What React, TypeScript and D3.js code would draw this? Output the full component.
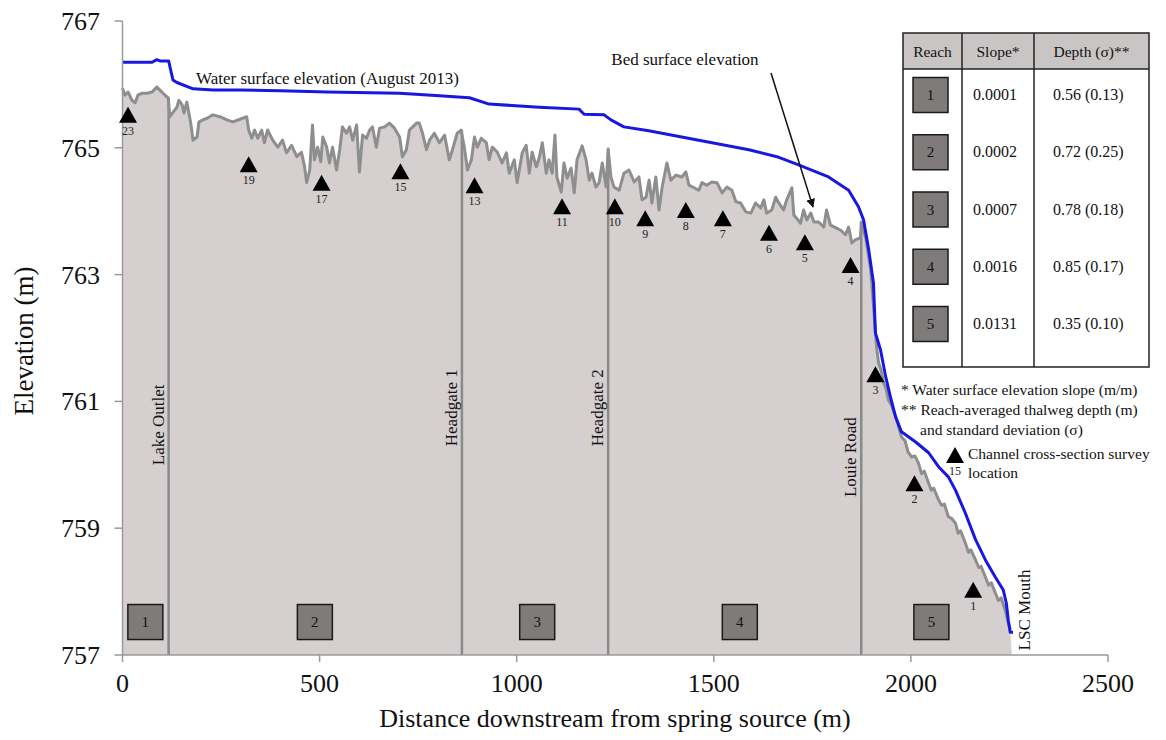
import React from 'react';
import * as d3 from 'd3';

// ---- canvas ----
const WIDTH = 1166;
const HEIGHT = 740;
const FONT = '"Liberation Serif", "Times New Roman", serif';

// ---- axes ----
const X_DOMAIN: [number, number] = [0, 2500];
const Y_DOMAIN: [number, number] = [757, 767];
const X_TICKS = [0, 500, 1000, 1500, 2000, 2500];
const Y_TICKS = [757, 759, 761, 763, 765, 767];

// ---- water surface profile, August 2013: [distance (m), elevation (m)] ----
const WATER_SURFACE: [number, number][] = [
  [0, 766.35], [75, 766.35], [87, 766.39], [95, 766.37], [117, 766.37], [128, 766.07],
  [138, 766.03], [179, 765.93], [230, 765.91], [300, 765.91], [400, 765.9], [520, 765.88],
  [703, 765.86], [804, 765.82], [880, 765.79], [930, 765.69], [1057, 765.64], [1158, 765.61],
  [1171, 765.53], [1222, 765.52], [1239, 765.44], [1272, 765.33], [1335, 765.27], [1462, 765.12],
  [1589, 764.97], [1665, 764.85], [1715, 764.73], [1791, 764.54], [1842, 764.33], [1867, 764.07],
  [1880, 763.86], [1893, 763.39], [1905, 762.87], [1910, 762.08], [1923, 761.81], [1936, 761.39],
  [1948, 761.07], [1961, 760.76], [1976, 760.52], [2012, 760.36], [2045, 760.19], [2070, 759.97],
  [2095, 759.81], [2113, 759.6], [2138, 759.24], [2164, 758.82], [2189, 758.5], [2214, 758.23],
  [2234, 758.03], [2242, 757.82], [2247, 757.55], [2252, 757.36], [2259, 757.36],
];

// ---- bed (thalweg) surface profile: [distance (m), elevation (m)] ----
const BED_SURFACE: [number, number][] = [
  [0, 765.94], [6, 765.83], [14, 765.88], [24, 765.75], [32, 765.71], [39, 765.83], [49, 765.86],
  [62, 765.86], [75, 765.88], [87, 765.96], [95, 765.91], [103, 765.86], [113, 765.8], [116, 765.79],
  [120, 765.49], [128, 765.56], [138, 765.64], [143, 765.75], [151, 765.68], [156, 765.55],
  [163, 765.72], [168, 765.56], [173, 765.39], [179, 765.12], [189, 765.17], [194, 765.41],
  [204, 765.44], [216, 765.47], [229, 765.52], [247, 765.49], [265, 765.44], [280, 765.41],
  [298, 765.45], [315, 765.49], [320, 765.28], [328, 765.15], [335, 765.28], [343, 765.15],
  [353, 765.28], [360, 765.08], [368, 765.28], [381, 765.12], [394, 765.01], [406, 765.12],
  [416, 764.92], [429, 765.04], [442, 764.86], [454, 764.93], [462, 764.7], [467, 764.45],
  [475, 764.65], [482, 765.36], [487, 764.81], [495, 765.01], [503, 764.78], [508, 765.17],
  [518, 765.01], [525, 764.76], [533, 765.01], [543, 764.65], [551, 764.97], [558, 765.33],
  [568, 765.23], [576, 765.33], [584, 765.12], [594, 765.36], [601, 764.62], [609, 765.2],
  [619, 765.15], [627, 765.28], [634, 765.33], [644, 765.01], [652, 765.31], [665, 765.33],
  [677, 765.39], [690, 765.31], [703, 765.17], [710, 764.86], [720, 764.97], [728, 765.28],
  [746, 765.39], [753, 765.39], [761, 765.23], [771, 764.97], [779, 765.12], [791, 765.23],
  [804, 765.08], [817, 765.2], [829, 764.81], [837, 764.97], [849, 765.23], [859, 765.28],
  [867, 765.01], [875, 764.65], [885, 764.81], [893, 765.17], [900, 765.01], [910, 765.15],
  [923, 765.08], [930, 764.81], [938, 765.01], [951, 764.93], [963, 764.76], [974, 764.92],
  [981, 764.6], [994, 764.81], [1001, 764.45], [1014, 764.92], [1024, 765.04], [1032, 764.6],
  [1039, 764.93], [1050, 764.7], [1057, 764.84], [1065, 765.08], [1075, 764.6], [1082, 764.81],
  [1090, 764.6], [1097, 765.2], [1102, 764.54], [1113, 764.3], [1120, 764.76], [1128, 764.52],
  [1138, 764.68], [1146, 764.29], [1153, 764.81], [1166, 765.03], [1176, 764.81], [1184, 764.49],
  [1191, 764.6], [1201, 764.38], [1209, 764.45], [1217, 764.76], [1227, 764.38], [1232, 764.98],
  [1239, 764.54], [1247, 764.38], [1260, 764.33], [1272, 764.6], [1285, 764.65], [1298, 764.46],
  [1310, 764.54], [1318, 764.18], [1328, 764.22], [1336, 764.49], [1343, 764.13], [1353, 764.54],
  [1361, 764.02], [1369, 764.38], [1381, 764.76], [1391, 764.49], [1404, 764.57], [1419, 764.54],
  [1429, 764.62], [1437, 764.41], [1450, 764.37], [1462, 764.33], [1470, 764.45], [1482, 764.41],
  [1495, 764.46], [1508, 764.45], [1521, 764.29], [1533, 764.38], [1546, 764.33], [1556, 764.15],
  [1568, 764.13], [1581, 763.99], [1594, 763.97], [1606, 764.13], [1619, 764.05], [1627, 764.18],
  [1634, 763.97], [1647, 764.02], [1657, 764.22], [1665, 764.13], [1677, 764.02], [1685, 764.18],
  [1698, 764.37], [1703, 763.94], [1710, 763.89], [1720, 763.81], [1728, 764.02], [1736, 763.86],
  [1746, 763.97], [1754, 763.83], [1766, 763.83], [1779, 763.75], [1786, 764.02], [1796, 763.78],
  [1809, 763.74], [1822, 763.7], [1834, 763.63], [1842, 763.75], [1850, 763.5], [1860, 763.55],
  [1872, 763.58], [1874, 763.83], [1885, 763.59], [1893, 763.28], [1898, 763.07], [1904, 762.6],
  [1910, 762.08], [1914, 761.8], [1918, 761.61], [1924, 761.5], [1931, 761.29], [1937, 761.2],
  [1943, 761.02], [1950, 760.95], [1961, 760.76], [1968, 760.62], [1976, 760.44], [1985, 760.38],
  [1993, 760.2], [2002, 760.12], [2010, 760.14], [2019, 760.03], [2027, 759.86], [2034, 759.9],
  [2045, 759.71], [2052, 759.6], [2058, 759.63], [2070, 759.45], [2078, 759.36], [2085, 759.38],
  [2095, 759.18], [2104, 759.15], [2113, 759.08], [2120, 758.92], [2126, 758.96], [2138, 758.77],
  [2146, 758.62], [2152, 758.66], [2164, 758.5], [2172, 758.38], [2178, 758.4], [2189, 758.23],
  [2197, 758.1], [2204, 758.14], [2214, 757.98], [2222, 757.86], [2229, 757.9], [2239, 757.71],
  [2247, 757.51], [2252, 757.4],
];
const MOUTH_DISTANCE = 2256;

// ---- landmarks: channel distance, bed elevation at the marker, label centre elevation ----
const LANDMARK_NAMES = ['Lake Outlet', 'Headgate 1', 'Headgate 2', 'Louie Road'];
const LANDMARK_DISTANCES = [117, 861, 1232, 1874];
const LANDMARK_TOPS = [765.79, 765.28, 764.98, 763.83];
const LANDMARK_LABEL_ELEV = [760.63, 760.9, 760.9, 760.12];

// ---- cross-section survey locations ----
const SURVEY_IDS = [23, 19, 17, 15, 13, 11, 10, 9, 8, 7, 6, 5, 4, 3, 2, 1];
const SURVEY_DISTANCES = [14, 320, 505, 705, 893, 1115, 1249, 1326, 1429, 1523, 1640, 1731, 1847, 1910, 2009, 2158];
const SURVEY_ELEVATIONS = [765.52, 764.74, 764.45, 764.63, 764.41, 764.08, 764.08, 763.89, 764.02, 763.89, 763.66, 763.51, 763.15, 761.43, 759.71, 758.03];

// ---- reaches ----
const REACH_IDS = ['1', '2', '3', '4', '5'];
const REACH_MIDPOINTS = [58, 488, 1052, 1566, 2052];
const REACH_BOX_ELEV = 757.52;
const REACH_SLOPES = ['0.0001', '0.0002', '0.0007', '0.0016', '0.0131'];
const REACH_DEPTHS = ['0.56 (0.13)', '0.72 (0.25)', '0.78 (0.18)', '0.85 (0.17)', '0.35 (0.10)'];

const FILL = '#d5cfcf';
const BED_COLOR = '#8e8e8e';
const WATER_COLOR = '#1818e0';
const BOX_FILL = '#7f7b7b';

function Triangle({ cx, cy, label }: { cx: number; cy: number; label: string }) {
  const w = 18, h = 16;
  return (
    <g>
      <path d={`M${cx},${cy - h / 2} L${cx + w / 2},${cy + h / 2} L${cx - w / 2},${cy + h / 2} Z`} fill="#000" />
      <text x={cx} y={cy + 20} fontSize={12} textAnchor="middle" fill="#222" fontFamily={FONT}>{label}</text>
    </g>
  );
}

function ReachBox({ cx, cy, label }: { cx: number; cy: number; label: string }) {
  const s = 35;
  return (
    <g>
      <rect x={cx - s / 2} y={cy - s / 2} width={s} height={s} fill={BOX_FILL} stroke="#1a1a1a" strokeWidth={1.5} />
      <text x={cx} y={cy + 5} fontSize={15} textAnchor="middle" fill="#111" fontFamily={FONT}>{label}</text>
    </g>
  );
}

export default function App() {
  const x = d3.scaleLinear().domain(X_DOMAIN).range([122.5, 1108]);
  const y = d3.scaleLinear().domain(Y_DOMAIN).range([655, 21]);

  const bedLine = d3.line<[number, number]>().x(d => x(d[0])).y(d => y(d[1]));
  const bedArea = d3.area<[number, number]>().x(d => x(d[0])).y0(y(Y_DOMAIN[0])).y1(d => y(d[1]));
  const waterLine = d3.line<[number, number]>().x(d => x(d[0])).y(d => y(d[1]));
  const areaData: [number, number][] = [...BED_SURFACE, [MOUTH_DISTANCE, Y_DOMAIN[0]]];

  const axisColor = '#9a9a9a';

  // table layout
  const tL = 903, tT = 33, tR = 1149, tB = 367, hB = 69, c1 = 962, c2 = 1034;
  const rowY = (i: number) => 95 + i * 57.25;

  return (
    <svg width={WIDTH} height={HEIGHT} style={{ position: 'absolute', left: 0, top: 0, background: '#fff' }} fontFamily={FONT}>
      <defs>
        <marker id="arrowHead" viewBox="0 0 10 10" refX="9" refY="5" markerWidth="9" markerHeight="9" orient="auto" markerUnits="userSpaceOnUse">
          <path d="M0,0 L10,5 L0,10 z" fill="#111" />
        </marker>
      </defs>

      {/* bed fill and profile */}
      <path d={bedArea(areaData) || ''} fill={FILL} />

      {/* landmark dividers */}
      {LANDMARK_DISTANCES.map((d, i) => (
        <line key={i} x1={x(d)} x2={x(d)} y1={y(LANDMARK_TOPS[i])} y2={y(Y_DOMAIN[0])} stroke="#8a8a8a" strokeWidth={2.5} />
      ))}

      <path d={bedLine(BED_SURFACE) || ''} fill="none" stroke={BED_COLOR} strokeWidth={3} strokeLinejoin="round" />
      <path d={waterLine(WATER_SURFACE) || ''} fill="none" stroke={WATER_COLOR} strokeWidth={3} strokeLinejoin="round" />

      {/* axes */}
      <line x1={x(0)} x2={x(0)} y1={y(Y_DOMAIN[1])} y2={y(Y_DOMAIN[0])} stroke={axisColor} strokeWidth={1.5} />
      <line x1={x(0)} x2={x(X_DOMAIN[1])} y1={y(Y_DOMAIN[0])} y2={y(Y_DOMAIN[0])} stroke={axisColor} strokeWidth={1.5} />
      {Y_TICKS.map(t => (
        <g key={t}>
          <line x1={x(0) - 8} x2={x(0)} y1={y(t)} y2={y(t)} stroke={axisColor} strokeWidth={1.5} />
          <text x={100} y={y(t) + 9} fontSize={26} textAnchor="end" fill="#111">{t}</text>
        </g>
      ))}
      {X_TICKS.map(t => (
        <g key={t}>
          <line x1={x(t)} x2={x(t)} y1={y(Y_DOMAIN[0])} y2={y(Y_DOMAIN[0]) + 7} stroke={axisColor} strokeWidth={1.5} />
          <text x={x(t)} y={692} fontSize={26} textAnchor="middle" fill="#111">{t}</text>
        </g>
      ))}
      <text x={615} y={727} fontSize={26} textAnchor="middle" fill="#111">Distance downstream from spring source (m)</text>
      <text transform={`translate(33,341) rotate(-90)`} fontSize={27} textAnchor="middle" fill="#111">Elevation (m)</text>

      {/* landmark labels */}
      {LANDMARK_NAMES.map((n, i) => (
        <text key={n} transform={`translate(${x(LANDMARK_DISTANCES[i]) - 5},${y(LANDMARK_LABEL_ELEV[i])}) rotate(-90)`} fontSize={17} textAnchor="middle" fill="#111">{n}</text>
      ))}
      <text transform={`translate(${x(MOUTH_DISTANCE) + 18},${y(757.71)}) rotate(-90)`} fontSize={17} textAnchor="middle" fill="#111">LSC Mouth</text>

      {/* survey locations */}
      {SURVEY_IDS.map((id, i) => (
        <Triangle key={id} cx={x(SURVEY_DISTANCES[i])} cy={y(SURVEY_ELEVATIONS[i])} label={String(id)} />
      ))}

      {/* reach boxes */}
      {REACH_IDS.map((r, i) => (
        <ReachBox key={r} cx={x(REACH_MIDPOINTS[i])} cy={y(REACH_BOX_ELEV)} label={r} />
      ))}

      {/* annotations */}
      <text x={196} y={84} fontSize={17} fill="#111">Water surface elevation (August 2013)</text>
      <text x={685} y={65} fontSize={17} textAnchor="middle" fill="#111">Bed surface elevation</text>
      <line x1={771} y1={73} x2={813} y2={207} stroke="#111" strokeWidth={1.5} markerEnd="url(#arrowHead)" />

      {/* reach table */}
      <rect x={tL} y={tT} width={tR - tL} height={hB - tT} fill="#c9c5c5" />
      <rect x={tL} y={tT} width={tR - tL} height={tB - tT} fill="none" stroke="#222" strokeWidth={1.5} />
      <line x1={tL} x2={tR} y1={hB} y2={hB} stroke="#222" strokeWidth={1.5} />
      <line x1={c1} x2={c1} y1={tT} y2={tB} stroke="#222" strokeWidth={1.5} />
      <line x1={c2} x2={c2} y1={tT} y2={tB} stroke="#222" strokeWidth={1.5} />
      <text x={(tL + c1) / 2} y={57} fontSize={15.5} textAnchor="middle" fill="#111">Reach</text>
      <text x={(c1 + c2) / 2} y={57} fontSize={15.5} textAnchor="middle" fill="#111">Slope*</text>
      <text x={(c2 + tR) / 2} y={57} fontSize={15.5} textAnchor="middle" fill="#111">Depth (σ)**</text>
      {REACH_IDS.map((r, i) => (
        <g key={r}>
          <ReachBox cx={930.5} cy={rowY(i)} label={r} />
          <text x={973} y={rowY(i) + 5} fontSize={16} fill="#111">{REACH_SLOPES[i]}</text>
          <text x={1053} y={rowY(i) + 5} fontSize={16} fill="#111">{REACH_DEPTHS[i]}</text>
        </g>
      ))}

      {/* notes and legend */}
      <text x={901} y={395} fontSize={15.5} fill="#111">* Water surface elevation slope (m/m)</text>
      <text x={901} y={415} fontSize={15.5} fill="#111">** Reach-averaged thalweg depth (m)</text>
      <text x={920} y={435} fontSize={15.5} fill="#111">and standard deviation (σ)</text>
      <Triangle cx={955} cy={455} label="15" />
      <text x={968} y={459} fontSize={15.5} fill="#111">Channel cross-section survey</text>
      <text x={968} y={478} fontSize={15.5} fill="#111">location</text>
    </svg>
  );
}
